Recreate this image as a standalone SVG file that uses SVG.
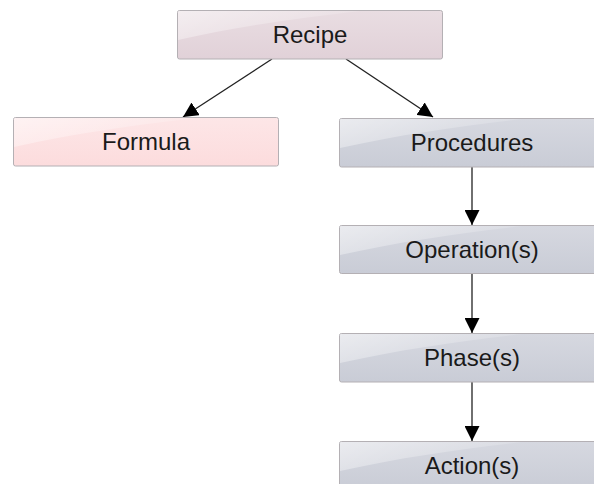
<svg xmlns="http://www.w3.org/2000/svg" width="594" height="484" viewBox="0 0 594 484">
  <defs>
    <linearGradient id="gRecipe" x1="0" y1="0" x2="0" y2="1">
      <stop offset="0" stop-color="#e9dde2"/>
      <stop offset="1" stop-color="#e1d1d8"/>
    </linearGradient>
    <linearGradient id="gFormula" x1="0" y1="0" x2="0" y2="1">
      <stop offset="0" stop-color="#fde6e7"/>
      <stop offset="1" stop-color="#fcdcdd"/>
    </linearGradient>
    <linearGradient id="gProc" x1="0" y1="0" x2="0" y2="1">
      <stop offset="0" stop-color="#d6d8e0"/>
      <stop offset="1" stop-color="#c9ccd6"/>
    </linearGradient>
    <linearGradient id="gloss" x1="0" y1="0" x2="1" y2="0.4">
      <stop offset="0" stop-color="#ffffff" stop-opacity="0.5"/>
      <stop offset="1" stop-color="#ffffff" stop-opacity="0.08"/>
    </linearGradient>
    <marker id="arrow" viewBox="0 0 15 15" refX="15" refY="7.5" markerWidth="15" markerHeight="15" markerUnits="userSpaceOnUse" orient="auto">
      <path d="M0,0 L15,7.5 L0,15 Z" fill="#000"/>
    </marker>
  </defs>
  <style>
    .box { stroke: #b4b0b4; stroke-width: 1; }
    .sheen { fill: url(#gloss); stroke: none; }
    .label { font-family: "Liberation Sans", Arial, sans-serif; font-size: 24px; fill: #1a1a1a; text-anchor: middle; }
    .edge { stroke: #222; stroke-width: 1.3; fill: none; marker-end: url(#arrow); }
  </style>

  <g id="connectors">
    <line class="edge" x1="272" y1="59" x2="183" y2="117"/>
    <line class="edge" x1="346" y1="59" x2="433" y2="117"/>
    <line class="edge" x1="472" y1="167" x2="472" y2="225"/>
    <line class="edge" x1="472" y1="273" x2="472" y2="333"/>
    <line class="edge" x1="472" y1="382" x2="472" y2="441"/>
  </g>

  <g id="recipe">
    <rect class="box" x="177.5" y="10.5" width="265" height="48.5" rx="2" fill="url(#gRecipe)"/>
    <path class="sheen" d="M178,11 H360 C300,18 240,26 178,40 Z"/>
    <text class="label" x="310" y="43">Recipe</text>
  </g>

  <g id="formula">
    <rect class="box" x="13.5" y="117.5" width="265" height="48.5" rx="2" fill="url(#gFormula)"/>
    <path class="sheen" d="M14,118 H196 C136,125 76,133 14,147 Z"/>
    <text class="label" x="146" y="150">Formula</text>
  </g>

  <g id="procedures">
    <rect class="box" x="339.5" y="118.5" width="265" height="48.5" rx="2" fill="url(#gProc)"/>
    <path class="sheen" d="M340,119 H522 C462,126 402,134 340,148 Z"/>
    <text class="label" x="472" y="151">Procedures</text>
  </g>

  <g id="operations">
    <rect class="box" x="339.5" y="225.5" width="265" height="48" rx="2" fill="url(#gProc)"/>
    <path class="sheen" d="M340,226 H522 C462,233 402,241 340,255 Z"/>
    <text class="label" x="472" y="258">Operation(s)</text>
  </g>

  <g id="phases">
    <rect class="box" x="339.5" y="333.5" width="265" height="48.5" rx="2" fill="url(#gProc)"/>
    <path class="sheen" d="M340,334 H522 C462,341 402,349 340,363 Z"/>
    <text class="label" x="472" y="366">Phase(s)</text>
  </g>

  <g id="actions">
    <rect class="box" x="339.5" y="441.5" width="265" height="48.5" rx="2" fill="url(#gProc)"/>
    <path class="sheen" d="M340,442 H522 C462,449 402,457 340,471 Z"/>
    <text class="label" x="472" y="474">Action(s)</text>
  </g>
</svg>
